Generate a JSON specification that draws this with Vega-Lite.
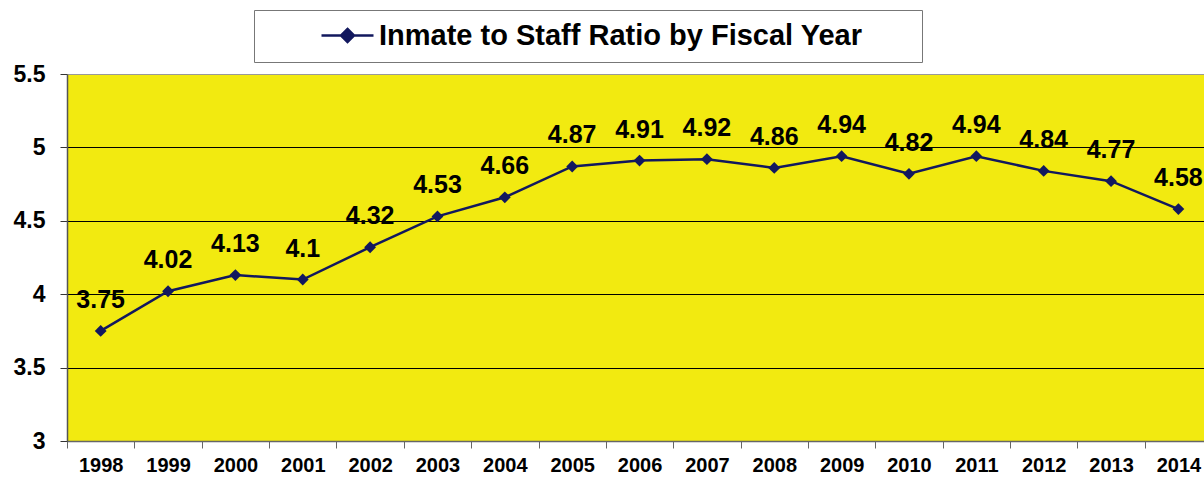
{
  "$schema": "https://vega.github.io/schema/vega-lite/v6.json",
  "width": 1137,
  "height": 367,
  "autosize": "none",
  "padding": {"left": 67, "top": 74, "right": 0, "bottom": 36},
  "background": "white",
  "config": {
    "view": {"fill": "#F2EA10", "stroke": null},
    "font": "Liberation Sans"
  },
  "data": {
    "values": [
      {"year": 1998, "ratio": 3.75},
      {"year": 1999, "ratio": 4.02},
      {"year": 2000, "ratio": 4.13},
      {"year": 2001, "ratio": 4.1},
      {"year": 2002, "ratio": 4.32},
      {"year": 2003, "ratio": 4.53},
      {"year": 2004, "ratio": 4.66},
      {"year": 2005, "ratio": 4.87},
      {"year": 2006, "ratio": 4.91},
      {"year": 2007, "ratio": 4.92},
      {"year": 2008, "ratio": 4.86},
      {"year": 2009, "ratio": 4.94},
      {"year": 2010, "ratio": 4.82},
      {"year": 2011, "ratio": 4.94},
      {"year": 2012, "ratio": 4.84},
      {"year": 2013, "ratio": 4.77},
      {"year": 2014, "ratio": 4.58}
    ]
  },
  "encoding": {
    "x": {
      "field": "year",
      "type": "quantitative",
      "scale": {"domain": [1997.5, 2014.38], "nice": false, "zero": false},
      "axis": {
        "title": null,
        "values": [1997.5, 1998.5, 1999.5, 2000.5, 2001.5, 2002.5, 2003.5, 2004.5, 2005.5, 2006.5, 2007.5, 2008.5, 2009.5, 2010.5, 2011.5, 2012.5, 2013.5],
        "labelExpr": "format(datum.value + 0.5, 'd')",
        "labelOffset": 33.7,
        "labelFont": "Liberation Sans",
        "labelFontWeight": "bold",
        "labelFontSize": 20,
        "labelColor": "black",
        "labelPadding": 7,
        "labelOverlap": false,
        "labelFlush": false,
        "tickSize": 7,
        "tickColor": "#666666",
        "domainColor": "#666666",
        "domainWidth": 1.5,
        "grid": false
      }
    },
    "y": {
      "field": "ratio",
      "type": "quantitative",
      "scale": {"domain": [3, 5.5], "nice": false, "zero": false},
      "axis": {
        "title": null,
        "values": [3, 3.5, 4, 4.5, 5, 5.5],
        "format": "~g",
        "labelFont": "Liberation Sans",
        "labelFontWeight": "bold",
        "labelFontSize": 23,
        "labelColor": "black",
        "labelPadding": 15,
        "tickSize": 7,
        "tickColor": "#333333",
        "domainColor": "#555555",
        "domainWidth": 1.5,
        "grid": true,
        "gridColor": {"condition": {"test": "datum.value === 5.5", "value": "#999999"}, "value": "#000000"},
        "gridWidth": 1,
        "gridOpacity": 1
      }
    }
  },
  "layer": [
    {
      "mark": {"type": "line", "strokeWidth": 2.5, "point": {"shape": "diamond", "size": 140, "filled": true, "color": "#12185E", "opacity": 1}},
      "encoding": {
        "color": {
          "datum": "Inmate to Staff Ratio by Fiscal Year",
          "scale": {"range": ["#12185E"]},
          "legend": {
            "orient": "none",
            "legendX": 187,
            "legendY": -64,
            "title": " ",
            "titleOrient": "right",
            "titlePadding": 49,
            "titleFontSize": 10,
            "padding": 11,
            "fillColor": "white",
            "strokeColor": "#777777",
            "symbolType": "M-2.6,0H2.6M0,-0.65L0.65,0L0,0.65L-0.65,0Z",
            "symbolSize": 400,
            "symbolOffset": 68,
            "symbolStrokeWidth": 2.5,
            "symbolStrokeColor": "#12185E",
            "symbolFillColor": "#12185E",
            "labelOffset": 17,
            "labelFont": "Liberation Sans",
            "labelFontWeight": "bold",
            "labelFontSize": 29,
            "labelColor": "black",
            "labelLimit": 0,
            "encode": {"symbols": {"update": {"fill": {"value": "#12185E"}, "stroke": {"value": "#12185E"}}}}
          }
        }
      }
    },
    {
      "mark": {"type": "text", "font": "Liberation Sans", "fontWeight": "bold", "fontSize": 25, "color": "black", "baseline": "middle", "dy": -31},
      "encoding": {
        "text": {"field": "ratio", "type": "quantitative", "format": "~g"}
      }
    }
  ]
}
